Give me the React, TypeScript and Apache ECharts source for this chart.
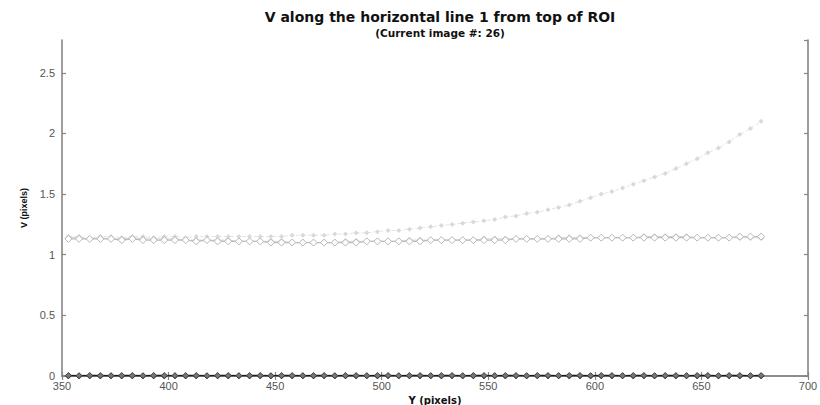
import React, { useEffect, useRef } from "react";
import * as echarts from "echarts";

const xPix: number[] = [353,358,363,368,373,378,383,388,393,398,403,408,413,418,423,428,433,438,443,448,453,458,463,468,473,478,483,488,493,498,503,508,513,518,523,528,533,538,543,548,553,558,563,568,573,578,583,588,593,598,603,608,613,618,623,628,633,638,643,648,653,658,663,668,673,678];

const risingV: number[] = [1.15,1.15,1.14,1.15,1.15,1.14,1.15,1.15,1.14,1.15,1.15,1.14,1.15,1.15,1.15,1.15,1.15,1.15,1.15,1.15,1.15,1.16,1.16,1.16,1.16,1.17,1.17,1.18,1.18,1.19,1.20,1.20,1.21,1.22,1.23,1.24,1.25,1.26,1.27,1.28,1.29,1.31,1.32,1.34,1.35,1.37,1.39,1.41,1.44,1.47,1.50,1.52,1.55,1.58,1.61,1.64,1.67,1.71,1.75,1.79,1.84,1.88,1.93,1.99,2.04,2.10];

const flatV: number[] = [1.13,1.13,1.13,1.13,1.13,1.12,1.13,1.12,1.12,1.12,1.12,1.12,1.11,1.12,1.11,1.11,1.11,1.11,1.11,1.10,1.10,1.10,1.10,1.10,1.10,1.10,1.10,1.10,1.11,1.11,1.11,1.11,1.11,1.11,1.12,1.12,1.12,1.12,1.12,1.12,1.12,1.12,1.13,1.13,1.13,1.13,1.13,1.13,1.13,1.14,1.14,1.14,1.14,1.14,1.14,1.14,1.14,1.14,1.14,1.14,1.14,1.14,1.14,1.15,1.15,1.15];

const flatV2: number[] = [1.14,1.14,1.13,1.14,1.13,1.13,1.14,1.13,1.13,1.13,1.13,1.12,1.12,1.12,1.12,1.12,1.11,1.11,1.11,1.11,1.11,1.10,1.10,1.10,1.10,1.10,1.11,1.11,1.11,1.11,1.11,1.11,1.12,1.12,1.12,1.12,1.12,1.12,1.12,1.13,1.13,1.13,1.13,1.13,1.13,1.13,1.14,1.14,1.14,1.14,1.14,1.14,1.14,1.14,1.15,1.15,1.15,1.15,1.15,1.14,1.14,1.14,1.14,1.14,1.14,1.14];

const zeroV1: number[] = [0.004,0.003,0.004,0.004,0.003,0.004,0.004,0.003,0.004,0.004,0.003,0.004,0.004,0.003,0.004,0.004,0.003,0.004,0.004,0.003,0.004,0.004,0.003,0.004,0.004,0.003,0.004,0.004,0.003,0.004,0.004,0.003,0.004,0.004,0.003,0.004,0.004,0.003,0.004,0.004,0.003,0.004,0.004,0.003,0.004,0.004,0.003,0.004,0.004,0.003,0.004,0.004,0.003,0.004,0.004,0.003,0.004,0.004,0.003,0.004,0.004,0.003,0.004,0.004,0.003,0.004];

const zeroV2: number[] = [0.001,0.000,0.001,0.000,0.001,0.000,0.001,0.000,0.001,0.000,0.001,0.000,0.001,0.000,0.001,0.000,0.001,0.000,0.001,0.000,0.001,0.000,0.001,0.000,0.001,0.000,0.001,0.000,0.001,0.000,0.001,0.000,0.001,0.000,0.001,0.000,0.001,0.000,0.001,0.000,0.001,0.000,0.001,0.000,0.001,0.000,0.001,0.000,0.001,0.000,0.001,0.000,0.001,0.000,0.001,0.000,0.001,0.000,0.001,0.000,0.001,0.000,0.001,0.000,0.001,0.000];

const xTicks: number[] = [350, 400, 450, 500, 550, 600, 650, 700];
const yTicks: number[] = [0, 0.5, 1, 1.5, 2, 2.5];

const titleText = "V along the horizontal line 1 from top of ROI";
const subText = "(Current image #: 26)";
const xName = "Y (pixels)";
const yName = "V (pixels)";

const pairs = (ys: number[]) => xPix.map((x, i) => [x, ys[i]]);

export default function App() {
  const ref = useRef<HTMLDivElement>(null);
  useEffect(() => {
    if (!ref.current) return;
    const chart = echarts.init(ref.current, undefined, { renderer: "svg" });
    const font = "'Liberation Sans', Arial, sans-serif";
    const boldFont = "'DejaVu Sans', 'Liberation Sans', sans-serif";
    const axisLine = { show: true, lineStyle: { color: "#858585", width: 1.6 } };
    const tick = { show: true, inside: true, length: 4, lineStyle: { color: "#858585", width: 1.2 } };
    const xLabel = {
      show: true,
      color: "#555",
      fontSize: 11,
      fontFamily: font,
      margin: 4,
      formatter: (v: number) => (xTicks.includes(v) ? String(v) : ""),
    };
    const yLabel = {
      show: true,
      color: "#555",
      fontSize: 11,
      fontFamily: font,
      margin: 7,
      showMaxLabel: false,
      formatter: (v: number) => (yTicks.some((t) => Math.abs(t - v) < 1e-9) ? String(v) : ""),
    };
    chart.setOption({
      animation: false,
      backgroundColor: "#fff",
      title: {
        text: titleText,
        subtext: subText,
        left: 435,
        top: 4,
        textAlign: "center",
        itemGap: 2,
        textStyle: { fontSize: 14, lineHeight: 16, fontWeight: "bold", color: "#111", fontFamily: boldFont },
        subtextStyle: { fontSize: 10.5, lineHeight: 12, fontWeight: "bold", color: "#111", fontFamily: boldFont },
      },
      grid: { left: 62, right: 12, top: 40, bottom: 29, outerBoundsMode: "none", containLabel: false },
      xAxis: [
        {
          type: "value",
          min: 350,
          max: 700,
          interval: 50,
          name: xName,
          nameLocation: "middle",
          nameGap: 14,
          nameTextStyle: { fontSize: 10, fontWeight: "bold", color: "#111", fontFamily: boldFont },
          axisLine,
          axisTick: tick,
          axisLabel: xLabel,
          splitLine: { show: false },
        },
        {
          type: "value",
          position: "top",
          min: 350,
          max: 700,
          interval: 50,
          axisLine,
          axisTick: tick,
          axisLabel: { show: false },
          splitLine: { show: false },
        },
      ],
      yAxis: [
        {
          type: "value",
          min: 0,
          max: 2.77,
          interval: 0.5,
          name: yName,
          nameLocation: "middle",
          nameGap: 34,
          nameRotate: 90,
          nameTextStyle: { fontSize: 9, fontWeight: "bold", color: "#111", fontFamily: font },
          axisLine,
          axisTick: tick,
          axisLabel: yLabel,
          splitLine: { show: false },
        },
        {
          type: "value",
          position: "right",
          min: 0,
          max: 2.77,
          interval: 0.5,
          axisLine,
          axisTick: tick,
          axisLabel: { show: false },
          splitLine: { show: false },
        },
      ],
      series: [
        {
          type: "line",
          data: pairs(risingV),
          symbol: "diamond",
          symbolSize: 5,
          itemStyle: { color: "#d9d9d9" },
          lineStyle: { color: "#e4e4e4", width: 1, type: "dashed" },
        },
        {
          type: "line",
          data: pairs(flatV2),
          symbol: "diamond",
          symbolSize: 6,
          itemStyle: { color: "#fff", borderColor: "#d0d0d0", borderWidth: 1 },
          lineStyle: { color: "#d2d2d2", width: 1 },
        },
        {
          type: "line",
          data: pairs(flatV),
          symbol: "diamond",
          symbolSize: 7,
          itemStyle: { color: "#fff", borderColor: "#b8b8b8", borderWidth: 1 },
          lineStyle: { color: "#bcbcbc", width: 1.2 },
        },
        {
          type: "line",
          data: pairs(zeroV2),
          symbol: "diamond",
          symbolSize: 6,
          itemStyle: { color: "#666", borderColor: "#444", borderWidth: 0.8 },
          lineStyle: { color: "#444", width: 1 },
        },
        {
          type: "line",
          data: pairs(zeroV1),
          symbol: "diamond",
          symbolSize: 6,
          itemStyle: { color: "#777", borderColor: "#333", borderWidth: 0.8 },
          lineStyle: { color: "#1a1a1a", width: 1.4 },
        },
      ],
    });
    return () => chart.dispose();
  }, []);
  return (
    <div
      ref={ref}
      style={{ position: "absolute", left: 0, top: 0, width: 820, height: 405, background: "#fff" }}
    />
  );
}
